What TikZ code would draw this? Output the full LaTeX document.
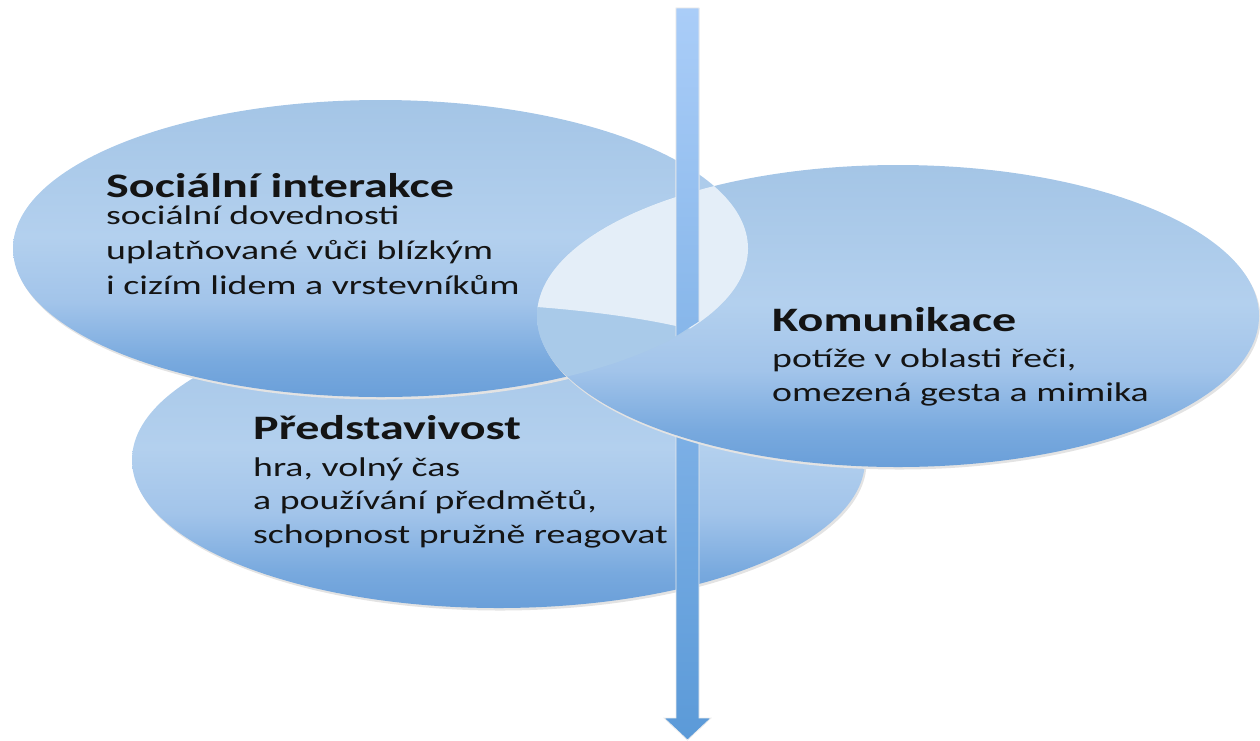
\documentclass[tikz,border=0pt]{standalone}
\usepackage{fontspec}
\setmainfont{Carlito}[FakeStretch=1.4]
\definecolor{eTop}{HTML}{A4C5E6}
\definecolor{eMid}{HTML}{B3D0EE}
\definecolor{eMidB}{HTML}{A2C4EA}
\definecolor{eBotB}{HTML}{78A9DE}
\definecolor{eBot}{HTML}{6A9FD9}
\definecolor{aTop}{HTML}{AACDF8}
\definecolor{aBot}{HTML}{5B9AD8}
\definecolor{lightc}{HTML}{E4EEF8}
\definecolor{midc}{HTML}{A9CAE9}
\pgfdeclareverticalshading{ellShade}{100bp}{color(0bp)=(eBot); color(25bp)=(eBot); color(31bp)=(eBotB); color(41bp)=(eMidB); color(52bp)=(eMid); color(75bp)=(eTop); color(100bp)=(eTop)}
\pgfdeclareverticalshading{arrShade}{100bp}{color(0bp)=(aBot); color(25bp)=(aBot); color(75bp)=(aTop); color(100bp)=(aTop)}
\begin{document}
\begin{tikzpicture}[x=1pt,y=-1pt,
  ell/.style={shading=ellShade},
  shadowc/.style={fill=black!11},
  blockarrow/.style={shading=arrShade, draw=white!85!gray, line width=0.8pt},
  ttl/.style={anchor=base west, inner sep=0pt, font=\fontsize{34.3}{40}\selectfont\bfseries, text=black!92},
  bd/.style={anchor=base west, inner sep=0pt, font=\fontsize{27}{31}\selectfont, text=black!92}]
\useasboundingbox (0,0) rectangle (1260,740);
% ellipse B (Predstavivost)
\fill[shadowc] (500,462.5) ellipse [x radius=366.5, y radius=148];
\shade[ell] (498.5,460) ellipse [x radius=366.5, y radius=148];
% ellipse A (Socialni interakce)
\fill[shadowc] (382,251) ellipse [x radius=367.5, y radius=148.5];
\shade[ell] (380.5,248.5) ellipse [x radius=367.5, y radius=148.5];
% block arrow, full
\coordinate (arrTop) at (687.5,8);
\coordinate (arrTip) at (687.5,740);
\shade[blockarrow] (676,8) -- (699,8) -- (699,718) -- (711,718) -- (arrTip) -- (664,718) -- (676,718) -- cycle;
% ellipse C (Komunikace)
\fill[shadowc] (899.5,318.5) ellipse [x radius=361, y radius=151];
\shade[ell] (898,316) ellipse [x radius=361, y radius=151];
% overlap A with C
\begin{scope}
  \clip (380.5,248.5) ellipse [x radius=367.5, y radius=148.5];
  \clip (898,316) ellipse [x radius=361, y radius=151];
  \fill[midc] (500,100) rectangle (800,450);
  \fill[lightc] (530,150) -- (760,150) -- (760,330) -- (698,330) -- (676,326)
     .. controls (640,318) and (590,311) .. (537,307) -- (520,307) -- cycle;
\end{scope}
% arrow upper part in front
\begin{scope}
  \clip (600,0) -- (760,0) -- (760,282.3) -- (600,384.7) -- cycle;
  \shade[blockarrow] (676,8) -- (699,8) -- (699,718) -- (711,718) -- (arrTip) -- (664,718) -- (676,718) -- cycle;
\end{scope}
% texts A
\node[ttl] (tA) at (106,197) {Sociální interakce};
\node[bd] (tA1) at (106,224) {sociální dovednosti};
\node[bd] (tA2) at (106,259) {uplatňované vůči blízkým};
\node[bd] (tA3) at (106,294) {i cizím lidem a vrstevníkům};
% texts B
\node[ttl] (tB) at (253,439) {Představivost};
\node[bd] (tB1) at (253,476) {hra, volný čas};
\node[bd] (tB2) at (253,509) {a používání předmětů,};
\node[bd] (tB3) at (253,543) {schopnost pružně reagovat};
% texts C
\node[ttl] (tC) at (772,331) {Komunikace};
\node[bd] (tC1) at (772,367) {potíže v oblasti řeči,};
\node[bd] (tC2) at (772,401) {omezená gesta a mimika};
\end{tikzpicture}
\end{document}
